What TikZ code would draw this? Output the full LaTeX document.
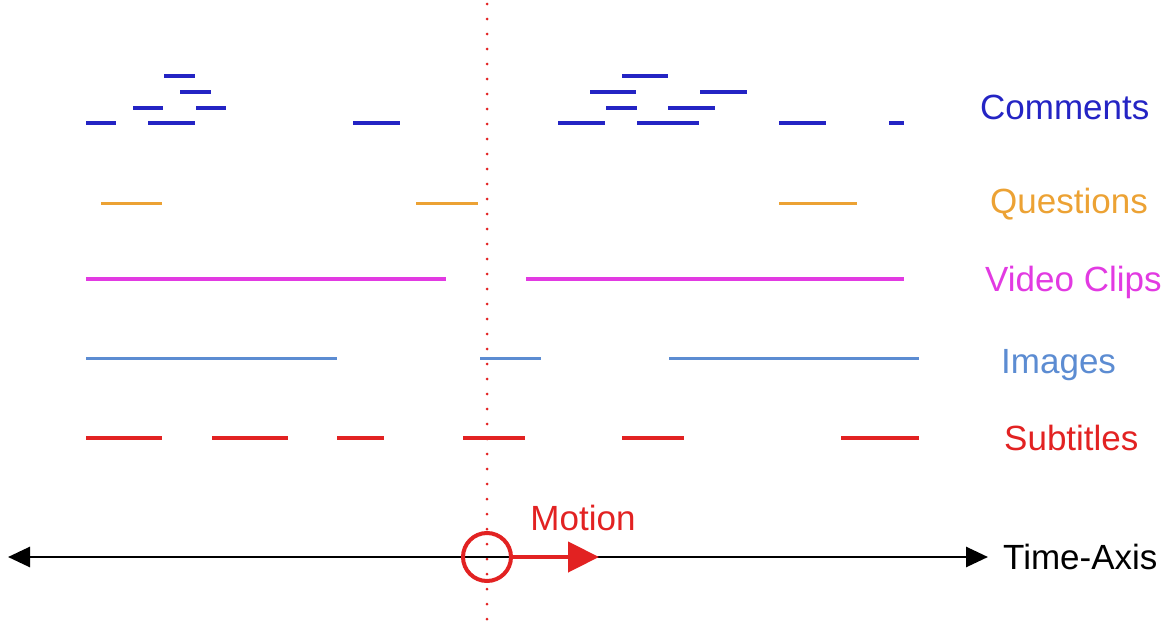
\documentclass[tikz,border=0pt]{standalone}
\usepackage{fontspec}
\setmainfont{Liberation Sans}
\usetikzlibrary{arrows.meta}
\definecolor{cblue}{RGB}{36,36,196}
\definecolor{corange}{RGB}{236,162,52}
\definecolor{cmag}{RGB}{226,58,226}
\definecolor{clblue}{RGB}{92,140,210}
\definecolor{cred}{RGB}{226,34,34}
\begin{document}
\begin{tikzpicture}[x=1pt,y=-1pt,
  seg/.style={line width=3.8pt},
  lab/.style={anchor=west,font=\fontsize{35}{40}\selectfont,inner sep=0pt},
]
\useasboundingbox (0,0) rectangle (1176,629);
% dotted current-time line
\draw[cred,line width=3pt,line cap=round,dash pattern=on 0pt off 15pt] (487,4) -- (487,629);
% Comments
\foreach \a/\b/\y in {164/195/76,180/211/92,133/163/108,196/226/108,86/116/123,148/195/123,353/400/123,
  622/668/76,590/636/92,700/747/92,606/637/108,668/715/108,558/605/123,637/699/123,779/826/123,889/904/123}
  \draw[seg,cblue] (\a,\y) -- (\b,\y);
% Questions
\foreach \a/\b in {101/162,416/478,779/857} \draw[seg,corange,line width=3pt] (\a,203) -- (\b,203);
% Video clips
\foreach \a/\b in {86/446,526/904} \draw[seg,cmag,line width=3.4pt] (\a,279) -- (\b,279);
% Images
\foreach \a/\b in {86/337,480/541,669/919} \draw[seg,clblue,line width=3pt] (\a,358) -- (\b,358);
% Subtitles
\foreach \a/\b in {86/162,212/288,337/384,463/525,622/684,841/919} \draw[seg,cred,line width=3.4pt] (\a,438) -- (\b,438);
% labels
\node[lab,text=cblue] (lcom) at (980,107) {Comments};
\node[lab,text=corange] (lque) at (990,204) {Questions};
\node[lab,text=cmag] (lvid) at (985,282) {Video Clips};
\node[lab,text=clblue] (limg) at (1001,365) {Images};
\node[lab,text=cred] (lsub) at (1004,438) {Subtitles};
% time axis
\coordinate (tl) at (8,557);
\coordinate (tr) at (988,557);
\draw[line width=2.8pt,{Triangle[length=22pt,width=20pt]}-{Triangle[length=22pt,width=20pt]}] (tl) -- (tr);
\node[lab,text=black] (ltime) at (1003,557) {Time-Axis};
% motion marker
\node[draw=cred,line width=4pt,circle,minimum size=48pt,inner sep=0pt] (mc) at (487,557) {};
\coordinate (mend) at (599,557);
\draw[cred,line width=4.5pt,-{Triangle[length=31pt,width=30pt]}] (mc.east) -- (mend);
\node[anchor=center,text=cred,font=\fontsize{35}{40}\selectfont,inner sep=0pt] (lmot) at (583,518) {Motion};
\end{tikzpicture}
\end{document}
